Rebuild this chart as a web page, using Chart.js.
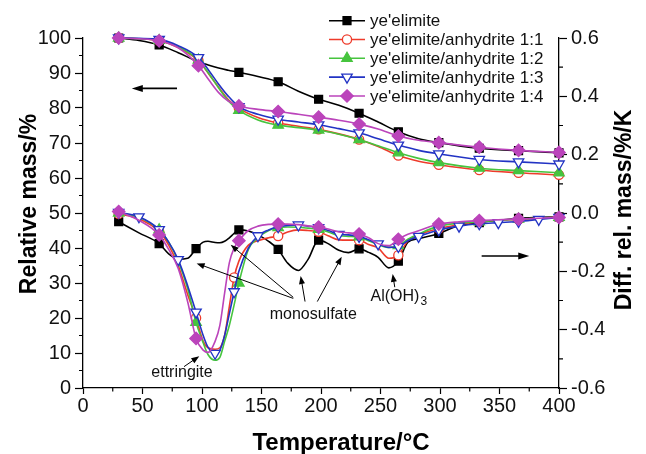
<!DOCTYPE html>
<html><head><meta charset="utf-8">
<script src="https://cdn.jsdelivr.net/npm/chart.js@4"></script>
<style>html,body{margin:0;padding:0;background:#fff}#wrap{width:646px;height:454px}</style>
</head><body><div id="wrap"><canvas id="c" width="646" height="454"></canvas></div>
<script>
// ---------- data ----------
const seriesNames = ["ye'elimite", "ye'elimite/anhydrite 1:1", "ye'elimite/anhydrite 1:2", "ye'elimite/anhydrite 1:3", "ye'elimite/anhydrite 1:4"];
const seriesColors = ['#000000', '#ee3b2b', '#46c43e', '#2233c4', '#bb44bb'];

// Relative mass (TG), left axis, %
const tgTemps = [30, 47, 64, 80, 97, 106, 114, 122, 131, 147, 164, 181, 198, 215, 232, 248, 265, 282, 299, 333, 366, 400];
const tgYe  = [100, 99.3, 98.0, 95.8, 93.2, 92.2, 91.4, 90.8, 90.2, 89.0, 87.5, 84.8, 82.5, 80.8, 78.5, 76.0, 73.2, 71.2, 70.1, 68.5, 67.8, 67.2];
const tgA11 = [100, 99.8, 99.2, 97.3, 93.5, 89.6, 85.9, 82.4, 79.9, 77.3, 75.7, 74.8, 73.9, 72.6, 71.0, 69.0, 66.4, 64.8, 63.8, 62.3, 61.5, 60.9];
const tgA12 = [100, 99.8, 99.3, 97.5, 93.7, 89.7, 85.7, 82.1, 79.3, 76.6, 75.1, 74.4, 73.7, 72.5, 71.0, 69.2, 67.2, 65.6, 64.4, 62.8, 62.1, 61.5];
const tgA13 = [100, 99.9, 99.6, 97.8, 94.4, 90.6, 86.8, 83.4, 80.4, 78.2, 76.8, 76.0, 75.2, 74.1, 72.9, 71.2, 69.4, 67.9, 66.9, 65.3, 64.6, 64.0];
const tgA14 = [100, 99.8, 99.2, 97.2, 92.1, 87.9, 84.4, 82.0, 80.6, 79.6, 79.0, 78.2, 77.4, 76.5, 75.4, 74.0, 72.0, 70.8, 70.1, 68.8, 67.9, 67.3];

// Differential relative mass (DTG), right axis, %/K
const dtgTemps = [30, 47, 64, 72, 80, 88, 95, 101, 105, 111, 115, 119, 123, 127, 131, 139, 147, 156, 164, 172, 181, 189, 198, 206, 215, 223, 232, 240, 248, 257, 265, 273, 282, 299, 316, 333, 349, 366, 383, 400];
const dtgYe  = [-0.030, -0.068, -0.105, -0.140, -0.158, -0.155, -0.122, -0.100, -0.097, -0.101, -0.102, -0.097, -0.085, -0.070, -0.058, -0.062, -0.075, -0.097, -0.125, -0.172, -0.197, -0.160, -0.093, -0.105, -0.128, -0.136, -0.123, -0.135, -0.152, -0.188, -0.165, -0.100, -0.088, -0.070, -0.043, -0.033, -0.025, -0.018, -0.015, -0.013];
const dtgA11 = [-0.003, -0.020, -0.064, -0.110, -0.180, -0.280, -0.360, -0.440, -0.462, -0.467, -0.462, -0.420, -0.320, -0.221, -0.165, -0.110, -0.095, -0.085, -0.079, -0.065, -0.058, -0.060, -0.064, -0.078, -0.092, -0.093, -0.093, -0.108, -0.120, -0.155, -0.145, -0.095, -0.075, -0.053, -0.040, -0.030, -0.025, -0.022, -0.018, -0.015];
const dtgA12 = [0.000, -0.015, -0.058, -0.100, -0.165, -0.260, -0.375, -0.445, -0.485, -0.505, -0.495, -0.440, -0.385, -0.315, -0.240, -0.125, -0.085, -0.060, -0.050, -0.048, -0.049, -0.052, -0.056, -0.065, -0.078, -0.080, -0.082, -0.095, -0.108, -0.118, -0.112, -0.090, -0.072, -0.045, -0.035, -0.030, -0.025, -0.021, -0.018, -0.015];
const dtgA13 = [0.002, -0.013, -0.057, -0.100, -0.160, -0.250, -0.340, -0.420, -0.460, -0.481, -0.470, -0.420, -0.345, -0.270, -0.200, -0.120, -0.078, -0.058, -0.047, -0.043, -0.041, -0.045, -0.050, -0.060, -0.073, -0.075, -0.080, -0.092, -0.106, -0.118, -0.115, -0.095, -0.080, -0.058, -0.045, -0.037, -0.033, -0.029, -0.022, -0.015];
const dtgA14 = [0.005, -0.025, -0.075, -0.125, -0.190, -0.305, -0.430, -0.470, -0.478, -0.440, -0.385, -0.275, -0.170, -0.120, -0.095, -0.060, -0.045, -0.039, -0.038, -0.038, -0.040, -0.044, -0.048, -0.055, -0.065, -0.068, -0.072, -0.085, -0.105, -0.112, -0.090, -0.073, -0.061, -0.038, -0.030, -0.026, -0.023, -0.021, -0.018, -0.015];

// temperatures where symbols are drawn
const tgMarks = [30, 64, 97, 131, 164, 198, 232, 265, 299, 333, 366, 400];
const dtgMarks = [30, 64, 95, 131, 164, 198, 232, 265, 299, 333, 366, 400];
const dtgMarksRed = [30, 64, 95, 127, 164, 198, 232, 265, 299, 333, 366, 400];
const dtgMarksBlue = [30, 47, 64, 80, 95, 111, 127, 147, 164, 181, 198, 215, 232, 248, 265, 282, 299, 316, 333, 349, 366, 383, 400];

const xTickStep = 50, yTickStep = 10, y1TickStep = 0.2;

// ---------- build ----------
Chart.defaults.font.family = "'Liberation Sans', Arial, Helvetica, sans-serif";
Chart.defaults.color = '#000';

const markerStyles = [
  {style: 'rect', r: 5.6, fill: true, rot: 0},
  {style: 'circle', r: 4.6, fill: false, rot: 0},
  {style: 'triangle', r: 6, fill: true, rot: 0},
  {style: 'triangle', r: 6, fill: false, rot: 180},
  {style: 'rectRot', r: 6.2, fill: true, rot: 0}
];

function pts(T, V) { return T.map((t, i) => ({x: t, y: V[i]})); }

function makeDs(i, T, V, axis, marks, legend) {
  const m = markerStyles[i];
  const col = seriesColors[i];
  return {
    label: seriesNames[i],
    legendEntry: legend,
    seriesIndex: i,
    data: pts(T, V),
    yAxisID: axis,
    borderColor: col,
    borderWidth: 1.6,
    backgroundColor: m.fill ? col : '#ffffff',
    pointStyle: m.style,
    pointRotation: m.rot,
    pointBorderColor: col,
    pointBackgroundColor: m.fill ? col : '#ffffff',
    pointBorderWidth: 1.3,
    pointRadius: ctx => (ctx.raw && marks.includes(ctx.raw.x)) ? m.r : 0,
    pointHoverRadius: 0,
    pointHitRadius: 0,
    cubicInterpolationMode: 'monotone',
    fill: false,
    clip: 12
  };
}

const tgSets = [tgYe, tgA11, tgA12, tgA13, tgA14];
const dtgSets = [dtgYe, dtgA11, dtgA12, dtgA13, dtgA14];
const dtgMarkSets = [dtgMarks, dtgMarksRed, dtgMarks, dtgMarksBlue, dtgMarks];

const datasets = [];
for (let i = 4; i >= 0; i--) {
  datasets.push(makeDs(i, tgTemps, tgSets[i], 'y', tgMarks, true));
  datasets.push(makeDs(i, dtgTemps, dtgSets[i], 'y1', dtgMarkSets[i], false));
}

function drawMarker(ctx, m, x, y, col) {
  ctx.save();
  ctx.beginPath();
  const r = m.r;
  if (m.style === 'rect') {
    const s = r * Math.SQRT1_2;
    ctx.rect(x - s, y - s, 2 * s, 2 * s);
  } else if (m.style === 'circle') {
    ctx.arc(x, y, r, 0, Math.PI * 2);
  } else if (m.style === 'triangle') {
    const sgn = m.rot ? -1 : 1;
    ctx.moveTo(x, y - sgn * r);
    ctx.lineTo(x + r * 0.866, y + sgn * r * 0.5);
    ctx.lineTo(x - r * 0.866, y + sgn * r * 0.5);
    ctx.closePath();
  } else if (m.style === 'rectRot') {
    ctx.moveTo(x, y - r); ctx.lineTo(x + r, y); ctx.lineTo(x, y + r); ctx.lineTo(x - r, y); ctx.closePath();
  }
  ctx.fillStyle = m.fill ? col : '#ffffff';
  ctx.fill();
  ctx.strokeStyle = col; ctx.lineWidth = 1.3;
  ctx.stroke();
  ctx.restore();
}

function arrow(ctx, x1, y1, x2, y2, head, hw, lw) {
  const a = Math.atan2(y2 - y1, x2 - x1);
  ctx.save();
  ctx.strokeStyle = '#000'; ctx.fillStyle = '#000'; ctx.lineWidth = lw;
  ctx.beginPath();
  ctx.moveTo(x1, y1);
  ctx.lineTo(x2 - Math.cos(a) * head * 0.8, y2 - Math.sin(a) * head * 0.8);
  ctx.stroke();
  ctx.beginPath();
  ctx.moveTo(x2, y2);
  ctx.lineTo(x2 - Math.cos(a) * head - Math.sin(a) * hw, y2 - Math.sin(a) * head + Math.cos(a) * hw);
  ctx.lineTo(x2 - Math.cos(a) * head + Math.sin(a) * hw, y2 - Math.sin(a) * head - Math.cos(a) * hw);
  ctx.closePath();
  ctx.fill();
  ctx.restore();
}

// annotations, in data coordinates (temperature, left-axis value)
const annArrows = [
  {from: [79, 85.6], to: [41, 85.6], big: true},
  {from: [335, 37.7], to: [375, 37.7], big: true},
  {from: [84.9, 6.1], to: [97.7, 9.1]},
  {from: [176.7, 25.6], to: [95.5, 35.6]},
  {from: [176.7, 25.9], to: [124.1, 40.9]},
  {from: [186.6, 24.7], to: [182.9, 32.0]},
  {from: [196.9, 24.7], to: [217.4, 37.5]},
  {from: [262.0, 28.8], to: [260.2, 32.6]}
];

const extras = {
  id: 'extras',
  afterDraw(chart) {
    const ctx = chart.ctx;
    const xs = chart.scales.x, ys = chart.scales.y, y1 = chart.scales.y1;
    const ca = chart.chartArea;
    ctx.save();
    // minor ticks
    ctx.strokeStyle = '#000'; ctx.lineWidth = 1.2;
    ctx.beginPath();
    for (let v = 25; v < 400; v += 50) { const p = xs.getPixelForValue(v); ctx.moveTo(p, ca.bottom); ctx.lineTo(p, ca.bottom + 3.5); }
    for (let v = 5; v < 100; v += 10) { const p = ys.getPixelForValue(v); ctx.moveTo(ca.left, p); ctx.lineTo(ca.left - 4, p); }
    for (let v = -0.5; v < 0.6; v += 0.2) { const p = y1.getPixelForValue(v); ctx.moveTo(ca.right, p); ctx.lineTo(ca.right + 4, p); }
    ctx.stroke();

    // axis titles
    ctx.font = "bold 23px 'Liberation Sans', Arial, sans-serif";
    ctx.fillStyle = '#000'; ctx.textAlign = 'center'; ctx.textBaseline = 'middle';
    ctx.save(); ctx.translate(ys.left + 29.5, (ca.top + ca.bottom) / 2 - 9); ctx.rotate(-Math.PI / 2);
    ctx.fillText('Relative mass/%', 0, 0); ctx.restore();
    ctx.save(); ctx.translate(y1.right - 21, (ca.top + ca.bottom) / 2 - 3); ctx.rotate(-Math.PI / 2);
    ctx.fillText('Diff. rel. mass/%/K', 0, 0); ctx.restore();
    ctx.font = "bold 24px 'Liberation Sans', Arial, sans-serif";
    ctx.textBaseline = 'alphabetic';
    ctx.fillText('Temperature/°C', (ca.left + ca.right) / 2 + 20, xs.bottom - 4);

    // annotation arrows
    annArrows.forEach(a => {
      const X1 = xs.getPixelForValue(a.from[0]), Y1 = ys.getPixelForValue(a.from[1]);
      const X2 = xs.getPixelForValue(a.to[0]), Y2 = ys.getPixelForValue(a.to[1]);
      if (a.big) arrow(ctx, X1, Y1, X2, Y2, 11, 3.5, 1.6);
      else arrow(ctx, X1, Y1, X2, Y2, 8, 3, 1);
    });
    // annotation texts
    ctx.textBaseline = 'middle';
    ctx.font = "16px 'Liberation Sans', Arial, sans-serif";
    ctx.fillStyle = '#111';
    ctx.fillText('ettringite', xs.getPixelForValue(83.2), ys.getPixelForValue(4.3));
    ctx.fillText('monosulfate', xs.getPixelForValue(193.5), ys.getPixelForValue(21.1));
    const ax = xs.getPixelForValue(264.2), ay = ys.getPixelForValue(26);
    ctx.textAlign = 'right';
    ctx.fillText('Al(OH)', ax + 22, ay);
    ctx.textAlign = 'left';
    ctx.font = "12px 'Liberation Sans', Arial, sans-serif";
    ctx.fillText('3', ax + 23, ay + 5);

    // legend
    const lx1 = 329, lx2 = 365, tx = 370;
    const rows = [20.7, 39.5, 58.3, 77.1, 96];
    ctx.font = "17px 'Liberation Sans', Arial, sans-serif";
    ctx.textAlign = 'left'; ctx.textBaseline = 'middle';
    chart.data.datasets.filter(d => d.legendEntry).sort((a, b) => a.seriesIndex - b.seriesIndex).forEach((d, k) => {
      const y = rows[k];
      ctx.strokeStyle = d.borderColor; ctx.lineWidth = 1.6;
      ctx.beginPath(); ctx.moveTo(lx1, y); ctx.lineTo(lx2, y); ctx.stroke();
      drawMarker(ctx, markerStyles[d.seriesIndex], (lx1 + lx2) / 2, y, d.borderColor);
      ctx.fillStyle = '#111';
      ctx.fillText(d.label, tx, y + 1);
    });
    ctx.restore();
  }
};

const axisCommon = {
  grid: {drawOnChartArea: false, drawTicks: true, tickLength: 8, color: '#000', tickColor: '#000', tickWidth: 1.2},
  border: {display: true, color: '#000', width: 1.3}
};

new Chart(document.getElementById('c'), {
  type: 'line',
  data: {datasets},
  options: {
    responsive: false,
    animation: false,
    devicePixelRatio: 1,
    layout: {padding: {top: 38, left: 0, right: 0, bottom: 0}},
    plugins: {legend: {display: false}, tooltip: {enabled: false}},
    scales: {
      x: {
        type: 'linear', min: 0, max: 400,
        ticks: {stepSize: xTickStep, font: {size: 20}, padding: 0, maxRotation: 0, autoSkip: false, color: '#111'},
        grid: {drawOnChartArea: false, drawTicks: true, tickLength: 6, color: '#000', tickColor: '#000', tickWidth: 1.2},
        border: axisCommon.border,
        afterFit: s => { s.height = 66; }
      },
      y: {
        position: 'left', min: 0, max: 100,
        ticks: {stepSize: yTickStep, font: {size: 20}, padding: 4, color: '#111'},
        grid: axisCommon.grid, border: axisCommon.border,
        afterFit: s => { s.width = 83; }
      },
      y1: {
        position: 'right', min: -0.6, max: 0.6,
        ticks: {stepSize: y1TickStep, font: {size: 20}, padding: 4, color: '#111',
          callback: v => Math.abs(v) < 1e-9 ? '0.0' : Number(v).toFixed(1)},
        grid: axisCommon.grid, border: axisCommon.border,
        afterFit: s => { s.width = 87; }
      }
    }
  },
  plugins: [extras]
});
</script>
</body></html>
